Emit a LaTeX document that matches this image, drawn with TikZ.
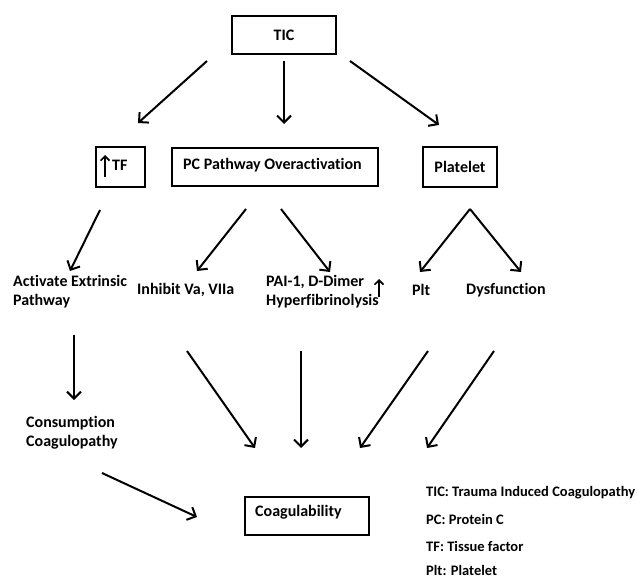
\documentclass[tikz,border=0pt]{standalone}
\usepackage{fontspec}
\setmainfont{Carlito}[BoldFont={Carlito Bold},Ligatures=CommonOff]
\usetikzlibrary{arrows.meta}
\begin{document}
\begin{tikzpicture}[x=1pt,y=-1pt,
  every node/.style={font=\fontsize{16}{19}\selectfont\bfseries, inner sep=0pt},
  legend/.style={anchor=west, font=\fontsize{14.5}{17}\selectfont\bfseries},
  box/.style={draw, line width=2.2pt},
  lbl/.style={anchor=west, align=left},
  conn/.style={line width=2pt, -{Straight Barb[length=7pt,width=14pt,line width=2pt]}},
  thin arrow/.style={line width=1.6pt, -{Straight Barb[length=4.5pt,width=9pt,line width=1.6pt]}}]
\useasboundingbox (0,0) rectangle (637,580);
% boxes
\node[box, minimum width=104pt, minimum height=38pt] (tic) at (284,35) {TIC};
\node[box, minimum width=49pt, minimum height=40pt] (tf) at (120.5,167) {};
\node[anchor=west] (tftext) at (112,165) {TF};
\node[box, minimum width=206pt, minimum height=38pt] (pc) at (275,167) {};
\node[anchor=west] (pctext) at (183,165) {PC Pathway Overactivation};
\node[box, minimum width=74pt, minimum height=40pt] (plat) at (460,167) {Platelet};
\node[box, minimum width=124pt, minimum height=38pt] (coag) at (307,516) {};
\node[anchor=west] (coagtext) at (255,512) {Coagulability};
% labels
\node[lbl] (act) at (13,292) {Activate Extrinsic\\Pathway};
\node[lbl] (inh) at (137,290) {Inhibit Va, VIIa};
\node[lbl] (pai) at (266,292) {PAI-1, D-Dimer\\Hyperfibrinolysis};
\node[lbl] (plt) at (412,290) {Plt};
\node[lbl] (dys) at (466,290) {Dysfunction};
\node[lbl] (cons) at (26,433) {Consumption\\Coagulopathy};
% legend
\node[legend] (l1) at (426,493) {TIC: Trauma Induced Coagulopathy};
\node[legend] (l2) at (426,519) {PC: Protein C};
\node[legend] (l3) at (426,546) {TF: Tissue factor};
\node[legend] (l4) at (426,570) {Plt: Platelet};
% connector endpoints
\coordinate (a1s) at (207,61);  \coordinate (a1e) at (138,123);
\coordinate (a2s) at (284,61);  \coordinate (a2e) at (284,124);
\coordinate (a3s) at (350,61);  \coordinate (a3e) at (439,125);
\coordinate (b1s) at (100,210); \coordinate (b1e) at (70,271);
\coordinate (b2s) at (246,209); \coordinate (b2e) at (197,271);
\coordinate (b3s) at (281,209); \coordinate (b3e) at (330,272);
\coordinate (b4s) at (470,209); \coordinate (b4e) at (420,272);
\coordinate (b5s) at (470,209); \coordinate (b5e) at (521,272);
\coordinate (c1s) at (74,335);  \coordinate (c1e) at (74,400);
\coordinate (d1s) at (187,351); \coordinate (d1e) at (255,448);
\coordinate (d2s) at (301,351); \coordinate (d2e) at (301,448);
\coordinate (d3s) at (428,351); \coordinate (d3e) at (360,448);
\coordinate (d4s) at (494,351); \coordinate (d4e) at (427,448);
\coordinate (e1s) at (102,473); \coordinate (e1e) at (197,517);
\coordinate (u1s) at (105,177); \coordinate (u1e) at (105,155);
\coordinate (u2s) at (379,297); \coordinate (u2e) at (379,279);
% connectors
\foreach \p in {a1,a2,a3,b1,b2,b3,b4,b5,c1,d1,d2,d3,d4,e1}
  \draw[conn] (\p s) -- (\p e);
\draw[thin arrow] (u1s) -- (u1e);
\draw[thin arrow] (u2s) -- (u2e);
\end{tikzpicture}
\end{document}
